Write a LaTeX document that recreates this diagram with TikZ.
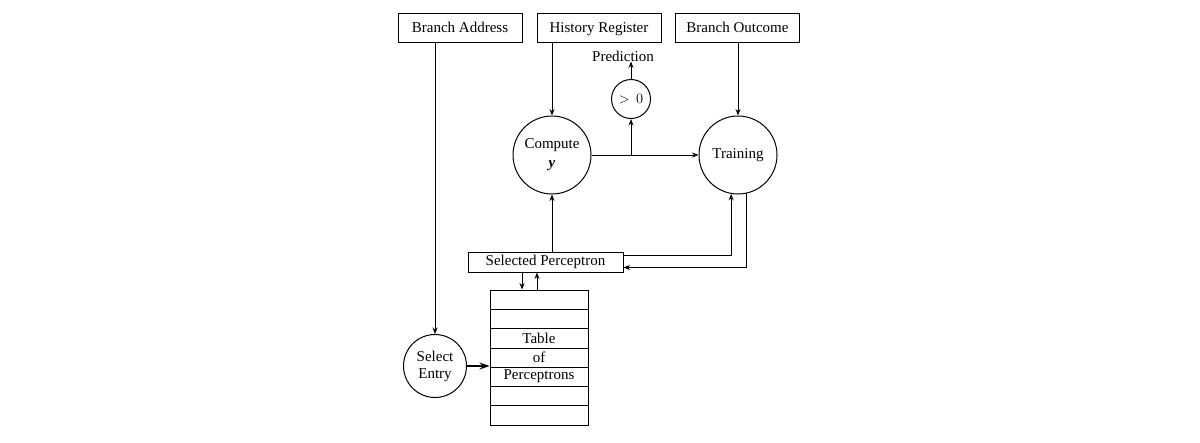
\documentclass[tikz,border=0pt]{standalone}
\usepackage{fontspec}
\setmainfont{Liberation Serif}
\usetikzlibrary{arrows.meta,calc}
\begin{document}
\begin{tikzpicture}[x=1pt,y=-1pt,
  every node/.style={font=\fontsize{15}{17}\selectfont, inner sep=0pt},
  topbox/.style={draw, line width=1pt, minimum width=124pt, minimum height=29pt, text height=10pt, text depth=1pt},
  circ/.style={draw, line width=1pt, circle, align=center},
  conn/.style={line width=0.9pt, -{Stealth[length=6.5pt,width=5pt]}},
  line/.style={line width=0.9pt}]
\useasboundingbox (0,0) rectangle (1200,442);
% top boxes
\node[topbox] (ba) at (460,27.5) {Branch Address};
\node[topbox] (hr) at (599,27.5) {History Register};
\node[topbox] (bo) at (737.5,27.5) {Branch Outcome};
% circles
\node[circ, minimum size=78pt] (cy) at (552,155) {Compute\\[2pt]\textbf{\textit{y}}};
\node[circ, minimum size=78pt] (tr) at (738,155) {Training};
\node[circ, minimum size=39pt] (gt) at (631,99) {$>\,0$};
\node (pred) at (623,56) {Prediction};
\node[circ, minimum size=63pt] (se) at (435,366) {Select\\Entry};
% selected perceptron
\node[draw, line width=1pt, minimum width=155pt, minimum height=20pt, text height=10.5pt, text depth=3pt] (sp) at (545.5,262) {Selected Perceptron};
% table
\node[draw, line width=1pt, minimum width=98pt, minimum height=135pt] (tb) at (539,357.5) {};
\foreach \yy in {309,328.5,348,367,386,405.5}
  \draw[line] (tb.west |- 0,\yy) -- (tb.east |- 0,\yy);
\node (t1) at (539,338) {Table};
\node (t2) at (539,357) {of};
\node (t3) at (539,376.5) {Perceptrons};
% connectors
\draw[conn] (se.north |- ba.south) -- (se.north);
\draw[conn] (cy.north |- hr.south) -- (cy.north);
\draw[conn] (tr.north |- bo.south) -- (tr.north);
\draw[conn] (cy.east) -- (tr.west);
\coordinate (br) at (gt.south |- cy.east);
\draw[conn] (br) -- (gt.south);
\draw[conn] (gt.north) -- (gt.north |- pred.south);
\draw[conn] (cy.south |- sp.north) -- (cy.south);
\coordinate (c1) at ($(sp.north east)+(0,4)$);
\draw[conn] (c1) -- (c1 -| tr.260) -- (tr.260);
\coordinate (c2) at ($(sp.south east)+(0,-5)$);
\draw[conn] (tr.283) -- (tr.283 |- c2) -- (c2);
\draw[conn] (sp.south -| 522,0) -- (tb.north -| 522,0);
\draw[conn] (tb.north -| 537,0) -- (sp.south -| 537,0);
\draw[line width=1.2pt, -{Stealth[length=10pt,width=7pt]}] (se.east) -- (se.east -| tb.west);
\end{tikzpicture}
\end{document}
